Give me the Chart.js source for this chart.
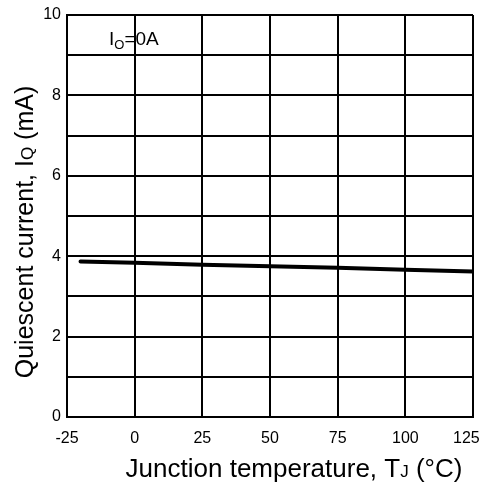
<!DOCTYPE html>
<html>
<head>
<meta charset="utf-8">
<script src="https://cdn.jsdelivr.net/npm/chart.js@4.4.0/dist/chart.umd.min.js"></script>
<style>
  html, body { margin: 0; padding: 0; background: #fff; }
  #c { display: block; }
</style>
</head>
<body>
<canvas id="c" width="484" height="484"></canvas>
<script>
// values
const temps = [-20, 0, 25, 50, 75, 100, 125];
const iq = [3.87, 3.84, 3.79, 3.75, 3.71, 3.66, 3.62];
const xTicks = [-25, 0, 25, 50, 75, 100, 125];
const yLabels = [0, 2, 4, 6, 8, 10];

const FONT = '"Liberation Sans", Arial, sans-serif';

// draws text with a small subscript piece, e.g. I + Q
function drawParts(ctx, parts, x, y, align) {
  let total = 0;
  parts.forEach(p => { ctx.font = p.size + 'px ' + FONT; total += ctx.measureText(p.t).width; });
  let cx = align === 'center' ? x - total / 2 : x;
  parts.forEach(p => {
    ctx.font = p.size + 'px ' + FONT;
    ctx.fillText(p.t, cx, y + (p.dy || 0));
    cx += ctx.measureText(p.t).width;
  });
}

const titles = {
  id: 'titles',
  afterDraw(chart) {
    const ctx = chart.ctx;
    ctx.save();
    ctx.fillStyle = '#000';
    ctx.textBaseline = 'alphabetic';
    ctx.textAlign = 'left';
    // x axis title
    drawParts(ctx, [
      { t: 'Junction temperature, T', size: 26 },
      { t: 'J', size: 17 },
      { t: ' (°C)', size: 26 }
    ], 294, 477, 'center');
    // y axis title
    ctx.save();
    ctx.translate(33, 232);
    ctx.rotate(-Math.PI / 2);
    drawParts(ctx, [
      { t: 'Quiescent current, I', size: 25 },
      { t: 'Q', size: 17 },
      { t: ' (mA)', size: 25 }
    ], 0, 0, 'center');
    ctx.restore();
    // condition label inside plot
    drawParts(ctx, [
      { t: 'I', size: 19 },
      { t: 'O', size: 13, dy: 4 },
      { t: '=0A', size: 19 }
    ], 109, 45, 'left');
    ctx.restore();
  }
};

new Chart(document.getElementById('c'), {
  type: 'line',
  data: {
    datasets: [{
      data: temps.map((t, i) => ({ x: t, y: iq[i] })),
      borderColor: '#000',
      borderWidth: 4,
      borderCapStyle: 'round',
      pointRadius: 0,
      tension: 0
    }]
  },
  options: {
    responsive: false,
    animation: false,
    devicePixelRatio: 1,
    layout: { padding: { top: 15, right: 11, left: 0, bottom: 0 } },
    plugins: { legend: { display: false }, tooltip: { enabled: false } },
    scales: {
      x: {
        type: 'linear',
        min: -25, max: 125,
        afterBuildTicks: s => { s.ticks = xTicks.map(v => ({ value: v })); },
        afterFit: s => { s.height = 67; s.paddingRight = 0; s.paddingLeft = 0; },
        grid: { color: '#000', lineWidth: 2, drawTicks: false },
        border: { color: '#000', width: 2 },
        ticks: {
          color: '#000', padding: 12, maxRotation: 0,
          font: { family: FONT, size: 16 },
          // last label sits a little left of its tick, as in the source
          callback: v => v === 125 ? '125   ' : String(v)
        }
      },
      y: {
        min: 0, max: 10,
        ticks: {
          stepSize: 1, color: '#000', padding: 6,
          font: { family: FONT, size: 16 },
          callback: v => yLabels.includes(v) ? String(v) : ''
        },
        afterFit: s => { s.width = 67; s.paddingTop = 0; s.paddingBottom = 0; },
        grid: { color: '#000', lineWidth: 2, drawTicks: false },
        border: { color: '#000', width: 2 }
      }
    }
  },
  plugins: [titles]
});
</script>
</body>
</html>
